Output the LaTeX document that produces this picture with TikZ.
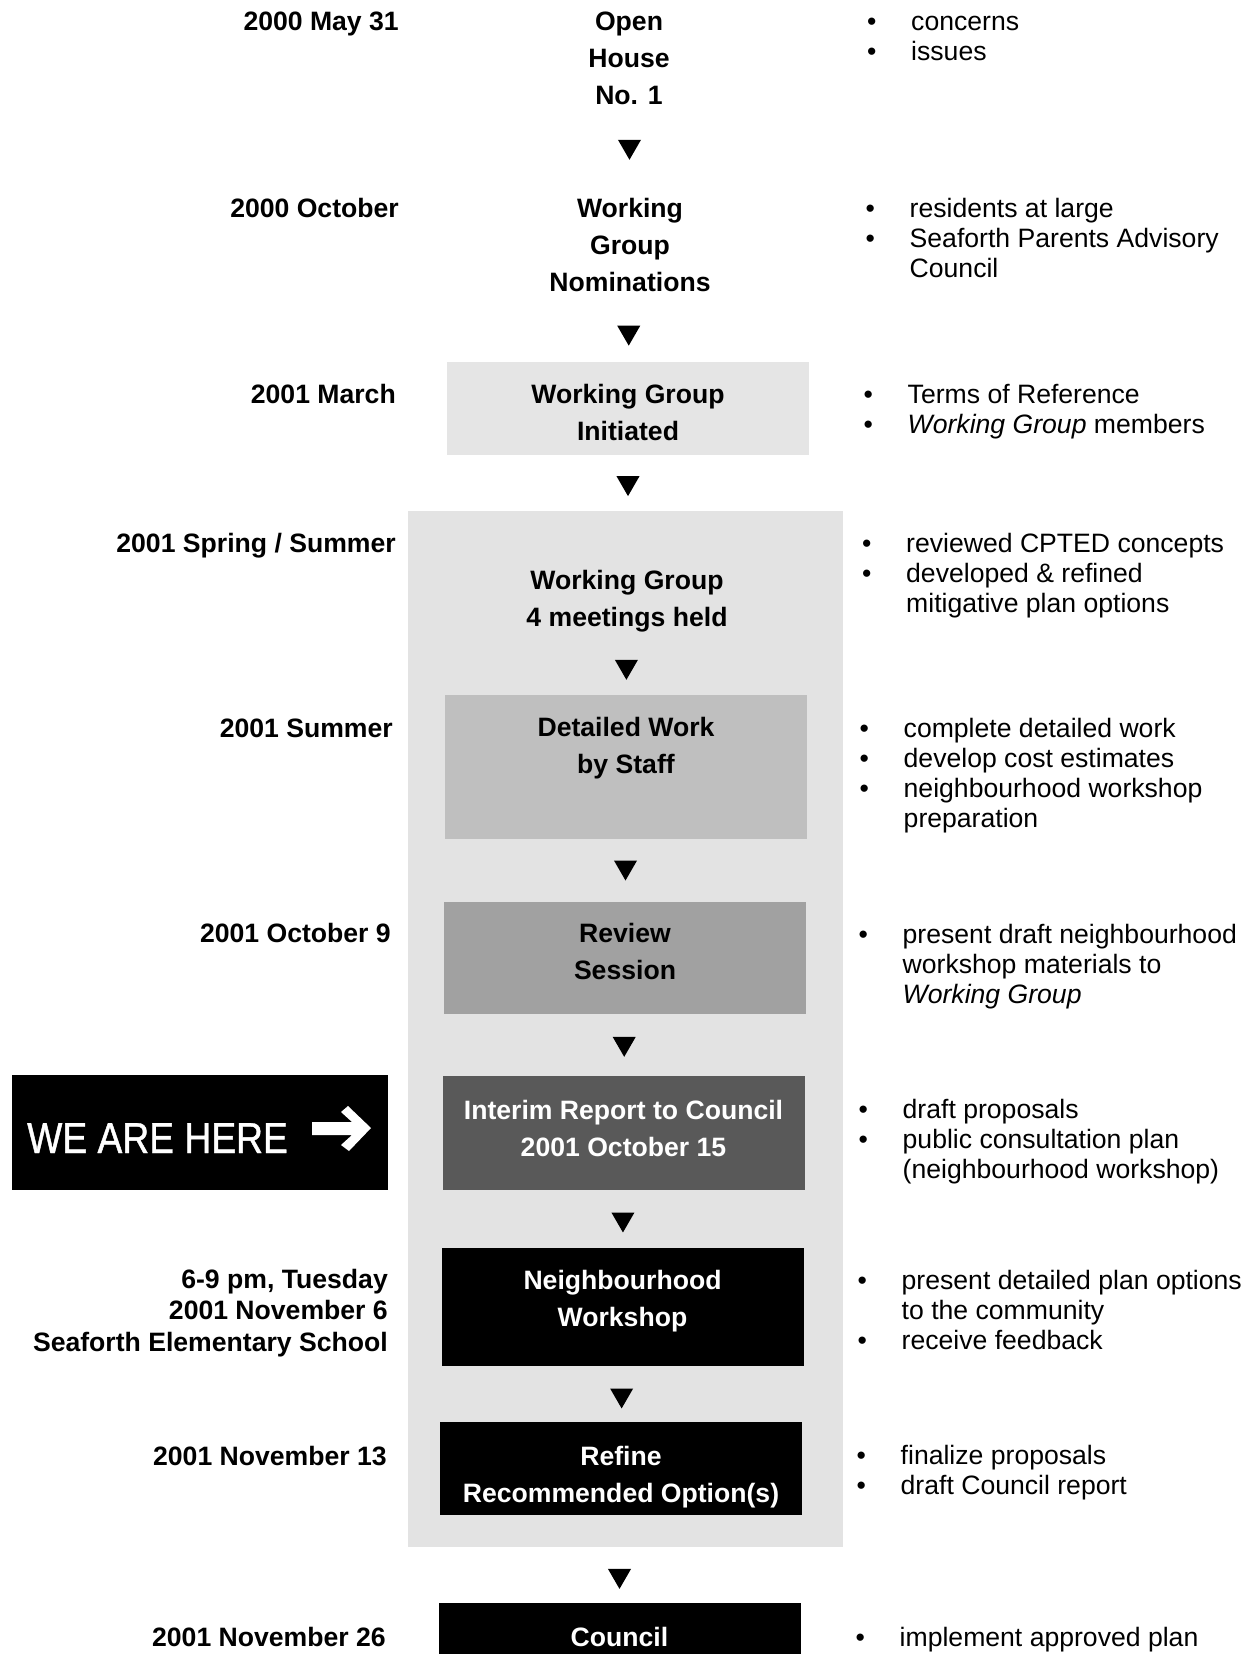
\documentclass[tikz,border=0pt]{standalone}
\usepackage{fontspec}
\setmainfont{Liberation Sans}
\newfontfamily\signfont[FakeStretch=0.86, FakeBold=1]{Liberation Sans}
\usetikzlibrary{shapes.geometric}
\definecolor{panelgray}{gray}{0.89}
\definecolor{startgray}{gray}{0.9}
\definecolor{staffgray}{gray}{0.75}
\definecolor{reviewgray}{gray}{0.63}
\definecolor{interimgray}{gray}{0.35}
\newcommand{\stagefont}{\fontsize{26.6}{37}\selectfont\bfseries}
\newcommand{\datefont}{\fontsize{26.6}{31.5}\selectfont\bfseries}
\newcommand{\notefont}{\fontsize{26.6}{30}\selectfont}
\newcommand{\itm}{\textbullet &}
\newcommand{\notelist}[1]{\begin{tabular}[t]{@{}p{44pt}@{}l@{}}#1\end{tabular}}
\begin{document}
\begin{tikzpicture}[x=1pt, y=-1pt, every node/.style={inner sep=0pt},
        stage/.style={font=\stagefont, align=center},
        stagebox/.style={stage, minimum width=362pt},
        datenote/.style={font=\datefont, anchor=base east, align=right},
        notes/.style={font=\notefont, anchor=base west},
        downtri/.style={regular polygon, regular polygon sides=3, shape border rotate=180, fill=black, minimum size=26.6pt, yshift=3.3pt}]
    \useasboundingbox (0,0) rectangle (1251,1654);
    \node[fill=panelgray, minimum width=435pt, minimum height=1036pt] (panel) at (625.5,1029) {};

    \node[stage, anchor=north] (open) at (629,12) {Open\\House\\No. 1};
    \node[stage, anchor=north] (nominations) at (630,198) {Working\\Group\\Nominations};
    \node[stagebox, fill=startgray, minimum height=93pt, text height=64.5pt] (initiated) at (628,408) {Working Group\\Initiated};
    \node[stage, anchor=north] (meetings) at (627,570) {Working Group\\4 meetings held};
    \node[stagebox, fill=staffgray, minimum height=144pt, text depth=43pt] (detailed) at (626,767) {Detailed Work\\by Staff};
    \node[stagebox, fill=reviewgray, minimum height=112pt, text depth=14pt] (review) at (625,958) {Review\\Session};
    \node[stagebox, fill=interimgray, text=white, minimum height=114pt, text depth=10pt] (interim) at (623.5,1133) {Interim Report to Council\\2001 October 15};
    \node[stagebox, fill=black, text=white, minimum height=118pt, text depth=18pt] (workshop) at (622.5,1307) {Neighbourhood\\Workshop};
    \node[stagebox, fill=black, text=white, minimum height=93pt, text height=73pt] (refine) at (621,1468.5) {Refine\\Recommended Option(s)};
    \node[stagebox, fill=black, text=white, minimum height=67pt] (council) at (619.5,1636.5) {Council};

    \path (open.south) -- node[downtri, pos=.48] (arrow1) {} (nominations.north);
    \path (nominations.south) -- node[downtri, pos=.63] (arrow2) {} (initiated.north);
    \path (initiated.south) -- node[downtri, pos=.56] (arrow3) {} (initiated.south |- panel.north);
    \path (meetings.south) -- node[downtri, pos=.6] (arrow4) {} (detailed.north);
    \path (detailed.south) -- node[downtri] (arrow5) {} (review.north);
    \path (review.south) -- node[downtri, pos=.53] (arrow6) {} (interim.north);
    \path (interim.south) -- node[downtri, pos=.56] (arrow7) {} (workshop.north);
    \path (workshop.south) -- node[downtri, pos=.58] (arrow8) {} (refine.north);
    \path (council.north |- panel.south) -- node[downtri, pos=.57] (arrow9) {} (council.north);

    \node[datenote] (open-date) at (399,31) {2000 May 31};
    \node[datenote] (nominations-date) at (399,217) {2000 October};
    \node[datenote] (initiated-date) at (396,403) {2001 March};
    \node[datenote] (meetings-date) at (396,552) {2001 Spring / Summer};
    \node[datenote] (detailed-date) at (393,737) {2001 Summer};
    \node[datenote] (review-date) at (391,942) {2001 October 9};
    \node[datenote, anchor=north east] (workshop-date) at (388,1269) {6-9 pm, Tuesday\\2001 November 6\\Seaforth Elementary School};
    \node[datenote] (refine-date) at (387,1465) {2001 November 13};
    \node[datenote] (council-date) at (386,1646) {2001 November 26};

    \node[fill=black, minimum width=376pt, minimum height=115pt] (here) at (200,1132.5) {};
    \node[font=\signfont\fontsize{43.3}{43.3}\selectfont, text=white, anchor=base west] (here-text) at (27,1153) {WE ARE HERE};
    \fill[white] (312,1122) -- (352,1122) -- (341,1112) -- (348,1106) -- (371,1128) -- (349,1151) -- (341,1145) -- (352,1135) -- (312,1135) -- cycle;

    \node[notes] (open-notes) at (867,31) {\notelist{\itm concerns\\ \itm issues}};
    \node[notes] (nominations-notes) at (865.5,217) {\notelist{\itm residents at large\\ \itm Seaforth Parents Advisory\\ & Council}};
    \node[notes] (initiated-notes) at (863.5,403) {\notelist{\itm Terms of Reference\\ \itm \textit{Working Group} members}};
    \node[notes] (meetings-notes) at (862,552) {\notelist{\itm reviewed CPTED concepts\\ \itm developed \& refined\\ & mitigative plan options}};
    \node[notes] (detailed-notes) at (859.5,737) {\notelist{\itm complete detailed work\\ \itm develop cost estimates\\ \itm neighbourhood workshop\\ & preparation}};
    \node[notes] (review-notes) at (858.5,943) {\notelist{\itm present draft neighbourhood\\ & workshop materials to\\ & \textit{Working Group}}};
    \node[notes] (interim-notes) at (858.5,1118) {\notelist{\itm draft proposals\\ \itm public consultation plan\\ & (neighbourhood workshop)}};
    \node[notes] (workshop-notes) at (857.5,1289) {\notelist{\itm present detailed plan options\\ & to the community\\ \itm receive feedback}};
    \node[notes] (refine-notes) at (856.5,1464) {\notelist{\itm finalize proposals\\ \itm draft Council report}};
    \node[notes] (council-notes) at (855.5,1646) {\notelist{\itm implement approved plan}};
\end{tikzpicture}
\end{document}
